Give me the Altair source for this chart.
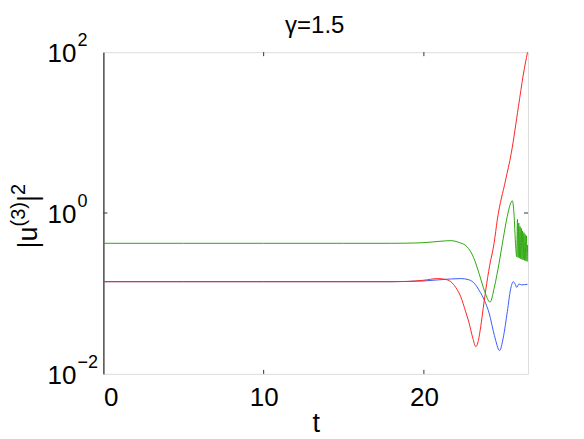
import altair as alt
import pandas as pd

FONT = "Liberation Sans"

# ---- data ----
t_red = [0, 5, 10, 15, 18, 19, 20, 20.85, 21.3, 21.68, 22.0, 22.3, 22.6, 22.82, 23.05,
         23.24, 23.4, 23.55, 23.7, 23.86, 24.1, 24.38, 24.58, 25.1, 25.45, 25.9, 26.2, 26.47]
v_red = [0.14, 0.14, 0.14, 0.14, 0.14, 0.141, 0.146, 0.153, 0.15, 0.14, 0.118, 0.091, 0.06, 0.043, 0.028,
         0.0218, 0.026, 0.039, 0.065, 0.11, 0.22, 0.42, 0.82, 2.57, 5.5, 21, 52, 100]

t_blue = [0, 5, 10, 15, 18, 19, 20, 21, 22.3, 22.8, 23.2, 23.44, 23.8, 24.07, 24.4, 24.73,
          24.95, 25.21, 25.4, 25.58, 25.7, 25.79, 25.93, 26.1, 26.47]
v_blue = [0.14, 0.14, 0.14, 0.14, 0.14, 0.141, 0.143, 0.148, 0.153, 0.148, 0.13, 0.11, 0.08, 0.057, 0.03, 0.0195,
          0.028, 0.06, 0.11, 0.14, 0.13, 0.119, 0.131, 0.128, 0.13]

t_green = [0, 5, 10, 15, 18, 19, 20, 21, 21.68, 22.2, 22.7, 23.1, 23.44, 23.8, 24.13, 24.4, 24.69,
           24.95, 25.2, 25.4, 25.52, 25.62, 25.73, 25.79, 25.84, 25.88, 25.92, 25.96, 26.0, 26.04,
           26.08, 26.12, 26.16, 26.2, 26.24, 26.28, 26.32, 26.36, 26.4, 26.44, 26.47]
v_green = [0.42, 0.42, 0.42, 0.42, 0.42, 0.422, 0.428, 0.445, 0.453, 0.43, 0.38, 0.28, 0.178, 0.105, 0.078, 0.12, 0.237,
           0.48, 0.9, 1.3, 1.42, 1.0, 0.38, 0.286, 0.835, 0.28, 0.75, 0.275, 0.68, 0.27,
           0.645, 0.265, 0.6, 0.262, 0.57, 0.258, 0.54, 0.255, 0.52, 0.25, 0.4]

x_ticks = [0, 10, 20]
y_ticks = [0.01, 1, 100]
y_tick_base = ["10", "10", "10"]
y_tick_exp = ["−2", "0", "2"]
x_inner_ticks = [10, 20]
y_inner_ticks = [1]

title_text = "γ=1.5"
x_title = "t"
# y title pieces: "|u" + sup "(3)" + "|" + sup "2"
y_title_parts = ["|u", "(3)", "|", "2"]

W, H = 425, 322

xs = alt.Scale(domain=[0, 26.5], nice=False, zero=False)
ys = alt.Scale(type="log", domain=[0.01, 100], nice=False)

x_axis = alt.Axis(values=x_ticks, ticks=False, grid=False, domain=False,
                  labelFont=FONT, labelFontSize=26, labelColor="black", labelPadding=11,
                  title=x_title, titleFont=FONT, titleFontSize=27, titleFontWeight="normal",
                  titleColor="black", titleX=W / 2, titleY=58, titleBaseline="alphabetic")
y_axis = alt.Axis(values=y_ticks, ticks=False, grid=False, domain=True, domainColor="black",
                  domainWidth=1, labels=False, title=None)


def series(ts, vs, color):
    df = pd.DataFrame({"t": ts, "v": vs})
    return alt.Chart(df).mark_line(strokeWidth=1, interpolate="monotone", clip=True, color=color).encode(
        x=alt.X("t:Q", scale=xs, axis=x_axis),
        y=alt.Y("v:Q", scale=ys, axis=y_axis),
    )


blue = series(t_blue, v_blue, "#3a5cff")
red = series(t_red, v_red, "#ff2424")
green = series(t_green, v_green, "#2ea80e")

xt = pd.DataFrame({"t": x_inner_ticks})
yt = pd.DataFrame({"v": y_inner_ticks})

xtick_bot = alt.Chart(xt).mark_rule(color="#333333", strokeWidth=1).encode(
    x=alt.X("t:Q", scale=xs, axis=x_axis), y=alt.value(H), y2=alt.value(H - 4))
xtick_top = alt.Chart(xt).mark_rule(color="#333333", strokeWidth=1).encode(
    x=alt.X("t:Q", scale=xs, axis=x_axis), y=alt.value(0), y2=alt.value(4))
ytick_l = alt.Chart(yt).mark_rule(color="#333333", strokeWidth=1).encode(
    y=alt.Y("v:Q", scale=ys, axis=y_axis), x=alt.value(0), x2=alt.value(4))
ytick_r = alt.Chart(yt).mark_rule(color="#333333", strokeWidth=1).encode(
    y=alt.Y("v:Q", scale=ys, axis=y_axis), x=alt.value(W), x2=alt.value(W - 4))

# y tick labels with real superscripts
yl = pd.DataFrame({"v": y_ticks, "base": y_tick_base, "exp": y_tick_exp})
ylab_base = alt.Chart(yl).mark_text(font=FONT, fontSize=26, align="left", baseline="alphabetic",
                                    dy=10, color="black").encode(
    y=alt.Y("v:Q", scale=ys, axis=y_axis), x=alt.value(-56), text="base:N")
ylab_exp = alt.Chart(yl).mark_text(font=FONT, fontSize=18, align="left", baseline="alphabetic",
                                   dy=-6, color="black").encode(
    y=alt.Y("v:Q", scale=ys, axis=y_axis), x=alt.value(-26), text="exp:N")

# y axis title, rotated, with superscripts
def ypart(txt, x, y, size):
    return alt.Chart(pd.DataFrame({"s": [txt]})).mark_text(
        font=FONT, fontSize=size, angle=270, align="left", baseline="alphabetic", color="black"
    ).encode(x=alt.value(x), y=alt.value(y), text="s:N")


yt1 = ypart(y_title_parts[0], -66, 196.5, 27)
yt2 = ypart(y_title_parts[1], -78, 174.5, 20)
yt3 = ypart(y_title_parts[2], -66, 150, 27)
yt4 = ypart(y_title_parts[3], -78, 143, 20)

title_layer = alt.Chart(pd.DataFrame({"s": [title_text]})).mark_text(
    font=FONT, fontSize=24, align="center", baseline="alphabetic", color="black"
).encode(x=alt.value(W / 2 - 1), y=alt.value(-19), text="s:N")

chart = alt.layer(blue, red, green, xtick_bot, xtick_top, ytick_l, ytick_r,
                  ylab_base, ylab_exp, yt1, yt2, yt3, yt4, title_layer).properties(
    width=W, height=H,
    autosize="none",
    padding={"left": 95.5, "top": 44, "right": 48, "bottom": 65},
).configure_view(stroke="#808080", strokeWidth=1.5).configure(background="white")

chart.save("out.html", embed_options={"renderer": "svg", "actions": False})
